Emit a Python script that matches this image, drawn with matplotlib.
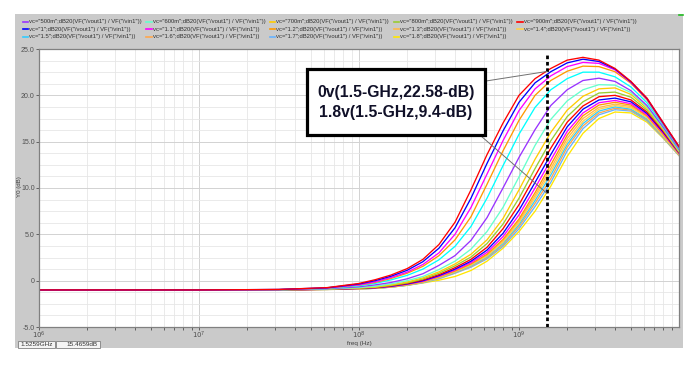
import matplotlib

matplotlib.use("Agg")
import matplotlib.pyplot as plt
from matplotlib.patches import Rectangle, ConnectionPatch
from matplotlib.ticker import FixedLocator, LogLocator, MultipleLocator, NullFormatter

plt.rcParams["font.family"] = ["Liberation Sans", "DejaVu Sans"]

# sweep of the control voltage vc, one curve per value
vc_values = ["0", "100m", "200m", "300m", "400m", "500m", "600m", "700m", "800m", "900m",
             "1", "1.1", "1.2", "1.3", "1.4", "1.5", "1.6", "1.7", "1.8"]

freq_hz = [1e6, 1e7, 3.16e7, 6.31e7, 1e8, 1.26e8, 1.58e8, 2.0e8, 2.51e8, 3.16e8, 3.98e8,
           5.01e8, 6.31e8, 7.94e8, 1e9, 1.26e9, 1.58e9, 2.0e9, 2.51e9, 3.16e9, 3.98e9,
           5.01e9, 6.31e9, 7.94e9, 1e10]

gain_0 = [-1.0, -1.0, -0.95, -0.75, -0.3, 0.1, 0.6, 1.3, 2.3, 3.9, 6.3, 9.8, 13.6, 17.0, 20.0,
          21.8, 22.9, 23.8, 24.1, 23.8, 22.9, 21.5, 19.7, 17.1, 14.5]
gain_100m = [-1.0, -1.0, -0.95, -0.77, -0.36, 0.0, 0.47, 1.12, 2.05, 3.5, 5.7, 8.9, 12.65, 16.15,
             19.25, 21.35, 22.55, 23.5, 23.9, 23.65, 22.85, 21.45, 19.65, 17.05, 14.45]
gain_200m = [-1.0, -1.0, -0.96, -0.79, -0.44, -0.12, 0.33, 0.92, 1.75, 3.0, 5.0, 7.9, 11.5, 15.1,
             18.35, 20.7, 22.1, 23.1, 23.55, 23.45, 22.75, 21.4, 19.6, 17.0, 14.4]
gain_300m = [-1.0, -1.0, -0.96, -0.81, -0.47, -0.2, 0.23, 0.8, 1.55, 2.7, 4.4, 6.9, 10.4, 14.0,
             17.3, 20.0, 21.6, 22.6, 23.15, 23.1, 22.55, 21.3, 19.5, 16.95, 14.35]
gain_400m = [-1.0, -1.0, -0.97, -0.84, -0.55, -0.3, 0.08, 0.57, 1.25, 2.25, 3.7, 5.85, 8.9, 12.4,
             15.8, 18.7, 20.6, 21.8, 22.5, 22.5, 22.0, 20.9, 19.2, 16.8, 14.25]
gain_500m = [-1.0, -1.0, -0.97, -0.87, -0.66, -0.46, -0.2, 0.2, 0.75, 1.65, 2.7, 4.35, 6.8, 10.0,
             13.3, 16.3, 18.9, 20.6, 21.6, 21.85, 21.5, 20.5, 18.9, 16.6, 14.15]
gain_600m = [-1.0, -1.0, -0.98, -0.89, -0.75, -0.6, -0.35, 0.0, 0.45, 1.2, 2.1, 3.4, 5.3, 7.9,
             11.2, 14.6, 17.4, 19.4, 20.6, 21.15, 21.1, 20.3, 18.75, 16.5, 14.05]
gain_700m = [-1.0, -1.0, -0.98, -0.9, -0.78, -0.68, -0.45, -0.15, 0.3, 0.95, 1.8, 2.85, 4.4, 6.7,
             9.8, 13.1, 16.0, 18.4, 19.9, 20.7, 20.8, 20.1, 18.6, 16.4, 13.95]
gain_800m = [-1.0, -1.0, -0.98, -0.91, -0.8, -0.72, -0.52, -0.24, 0.18, 0.8, 1.6, 2.55, 4.0, 6.1,
             8.9, 12.1, 15.1, 17.7, 19.3, 20.25, 20.35, 19.8, 18.4, 16.3, 13.9]
gain_900m = [-1.0, -1.0, -0.99, -0.92, -0.82, -0.74, -0.56, -0.3, 0.08, 0.65, 1.4, 2.3, 3.6, 5.6,
             8.2, 11.3, 14.3, 17.1, 18.85, 19.85, 20.0, 19.5, 18.2, 16.15, 13.85]
gain_1 = [-1.0, -1.0, -0.99, -0.92, -0.83, -0.76, -0.6, -0.35, 0.0, 0.55, 1.25, 2.1, 3.3, 5.1,
          7.6, 10.6, 13.6, 16.6, 18.5, 19.5, 19.7, 19.3, 18.05, 16.05, 13.8]
gain_1p1 = [-1.0, -1.0, -0.99, -0.93, -0.84, -0.77, -0.63, -0.38, -0.06, 0.48, 1.15, 1.95, 3.05,
            4.75, 7.1, 10.0, 13.0, 16.1, 18.1, 19.2, 19.45, 19.1, 17.9, 15.95, 13.75]
gain_1p2 = [-1.0, -1.0, -0.99, -0.93, -0.85, -0.78, -0.65, -0.41, -0.1, 0.42, 1.05, 1.82, 2.85,
            4.45, 6.65, 9.5, 12.5, 15.7, 17.8, 18.95, 19.25, 18.95, 17.8, 15.85, 13.7]
gain_1p3 = [-1.0, -1.0, -0.99, -0.94, -0.86, -0.79, -0.67, -0.44, -0.13, 0.38, 1.0, 1.75, 2.75,
            4.3, 6.45, 9.2, 12.1, 15.35, 17.5, 18.7, 19.05, 18.8, 17.7, 15.75, 13.65]
gain_1p4 = [-1.0, -1.0, -1.0, -0.94, -0.87, -0.8, -0.68, -0.46, -0.16, 0.34, 0.95, 1.68, 2.65,
            4.15, 6.25, 8.95, 11.75, 15.0, 17.2, 18.5, 18.9, 18.65, 17.6, 15.65, 13.6]
gain_1p5 = [-1.0, -1.0, -1.0, -0.94, -0.88, -0.81, -0.69, -0.48, -0.18, 0.3, 0.9, 1.6, 2.55,
            4.0, 6.05, 8.65, 11.4, 14.7, 16.95, 18.3, 18.75, 18.5, 17.45, 15.6, 13.6]
gain_1p6 = [-1.0, -1.0, -1.0, -0.95, -0.89, -0.82, -0.7, -0.49, -0.2, 0.25, 0.85, 1.52, 2.45,
            3.85, 5.85, 8.35, 11.0, 14.4, 16.7, 18.1, 18.6, 18.4, 17.35, 15.5, 13.55]
gain_1p7 = [-1.0, -1.0, -1.0, -0.95, -0.9, -0.82, -0.7, -0.5, -0.22, 0.2, 0.8, 1.45, 2.35,
            3.7, 5.6, 8.0, 10.6, 14.0, 16.4, 17.9, 18.45, 18.3, 17.25, 15.45, 13.5]
gain_1p8 = [-1.0, -1.0, -1.0, -0.95, -0.9, -0.82, -0.7, -0.5, -0.25, 0.05, 0.45, 1.1, 2.1,
            3.5, 5.3, 7.5, 10.2, 13.4, 15.9, 17.5, 18.2, 18.1, 17.1, 15.4, 13.5]

curves = [gain_0, gain_100m, gain_200m, gain_300m, gain_400m, gain_500m, gain_600m, gain_700m,
          gain_800m, gain_900m, gain_1, gain_1p1, gain_1p2, gain_1p3, gain_1p4, gain_1p5,
          gain_1p6, gain_1p7, gain_1p8]

colors = ["#ff0000", "#0000ff", "#ff00ff", "#ff9900", "#00ffff", "#9933ff", "#66ffcc", "#ffcc00",
          "#99cc33", "#ff0000", "#0000ff", "#ff00ff", "#ff9900", "#ffb84d", "#ffd24d", "#33ccff",
          "#ffa64d", "#66b3ff", "#ffe600"]

marker_freq = 1.5e9
marker_db = [22.58, 9.4]
marker_text = ["0v(1.5-GHz,22.58-dB)", "1.8v(1.5-GHz,9.4-dB)"]
cursor_text = ["1.5259GHz", "15.4659dB"]
y_ticks = [-5, 0, 5, 10, 15, 20, 25]
y_tick_labels = ["-5.0", "0", "5.0", "10.0", "15.0", "20.0", "25.0"]
x_ticks = [1e6, 1e7, 1e8, 1e9]
x_tick_labels = ["$10^{6}$", "$10^{7}$", "$10^{8}$", "$10^{9}$"]

W, H = 698, 366


def fx(px):
    return px / W


def fy(py):
    return 1 - py / H


fig = plt.figure(figsize=(W / 100, H / 100), dpi=100)
fig.patch.set_facecolor("white")

# grey waveform window, kept behind the axes
fig.patches.append(Rectangle((fx(15), fy(348)), fx(683) - fx(15), fy(14) - fy(348),
                             transform=fig.transFigure, facecolor="#cacaca", edgecolor="none",
                             zorder=-5))
fig.lines.append(plt.Line2D([fx(679), fx(683)], [fy(14.5), fy(14.5)], transform=fig.transFigure,
                            color="#22bb22", lw=1.2))

# legend rows at the top of the window
legend_start = 5
for k, idx in enumerate(range(legend_start, len(vc_values))):
    row, col = divmod(k, 5)
    x0 = 22.5 + col * 123.7
    y0 = 21.7 + row * 7.4
    fig.lines.append(plt.Line2D([fx(x0), fx(x0 + 5.5)], [fy(y0), fy(y0)],
                                transform=fig.transFigure, color=colors[idx], lw=1.2))
    fig.text(fx(x0 + 6.5), fy(y0), f'vc="{vc_values[idx]}";dB20(VF("/vout1") / VF("/vin1"))',
             fontsize=4.25, color="#303030", va="center", ha="left")

ax = fig.add_axes([fx(39), fy(327), fx(679) - fx(39), fy(49) - fy(327)])
ax.set_facecolor("white")
for curve, color in zip(curves[::-1], colors[::-1]):
    ax.plot(freq_hz, curve, color=color, lw=0.95)

ax.set_xscale("log")
ax.set_xlim(1e6, 1e10)
ax.set_ylim(-5, 25)

ax.xaxis.set_major_locator(FixedLocator(x_ticks))
ax.set_xticklabels(x_tick_labels)
ax.xaxis.set_minor_locator(LogLocator(base=10, subs=range(2, 10), numticks=20))
ax.xaxis.set_minor_formatter(NullFormatter())
ax.set_yticks(y_ticks)
ax.set_yticklabels(y_tick_labels)
ax.yaxis.set_minor_locator(MultipleLocator(1.25))

ax.grid(True, which="major", color="#d2d2d2", lw=0.7)
ax.grid(True, which="minor", color="#e6e6e6", lw=0.6)
ax.set_axisbelow(True)
ax.tick_params(which="both", labelsize=5, colors="#505050", length=2, width=0.6, pad=1)
ax.tick_params(axis="x", which="major", pad=0.3)
ax.tick_params(axis="y", which="minor", length=0)
for spine in ax.spines.values():
    spine.set_color("#808080")
    spine.set_linewidth(0.9)

fig.text(fx(359), fy(344), "freq (Hz)", fontsize=4.6, color="#404040", ha="center",
         va="center")
fig.text(fx(20), fy(187), "Y0 (dB)", rotation=90, fontsize=4.4, color="#404040",
         ha="center", va="center")

# vertical marker at 1.5 GHz
ax.plot([marker_freq, marker_freq], [-5, 24.4], color="black", lw=2.0,
        linestyle=(0, (1.3, 1.0)), zorder=5)

# annotation box
fig.patches.append(Rectangle((fx(307), fy(135)), fx(485) - fx(307), fy(69) - fy(135),
                             transform=fig.transFigure, facecolor="white", edgecolor="black",
                             lw=2.3, zorder=10))
fig.text(fx(396), fy(93), marker_text[0], fontsize=11.3, fontweight="bold", color="#101028",
         ha="center", va="center", zorder=11)
fig.text(fx(396), fy(112), marker_text[1], fontsize=11.3, fontweight="bold", color="#101028",
         ha="center", va="center", zorder=11)
for (bx, by), db in zip([(486, 81), (481, 136)], marker_db):
    con = ConnectionPatch(xyA=(fx(bx), fy(by)), coordsA="figure fraction",
                          xyB=(marker_freq, db), coordsB=ax.transData,
                          color="#707070", lw=0.7, zorder=9)
    fig.add_artist(con)

# cursor read-out boxes
for (x0, x1), txt in zip([(17.7, 54.5), (56, 100)], cursor_text):
    fig.patches.append(Rectangle((fx(x0), fy(348)), fx(x1) - fx(x0), fy(340.7) - fy(348),
                                 transform=fig.transFigure, facecolor="#f4f4f4",
                                 edgecolor="#808080", lw=0.6))
    fig.text(fx(x1 - 2), fy(344.6), txt, fontsize=4.6, color="#303030", ha="right",
             va="center")

fig.savefig("out.png", dpi=100)
